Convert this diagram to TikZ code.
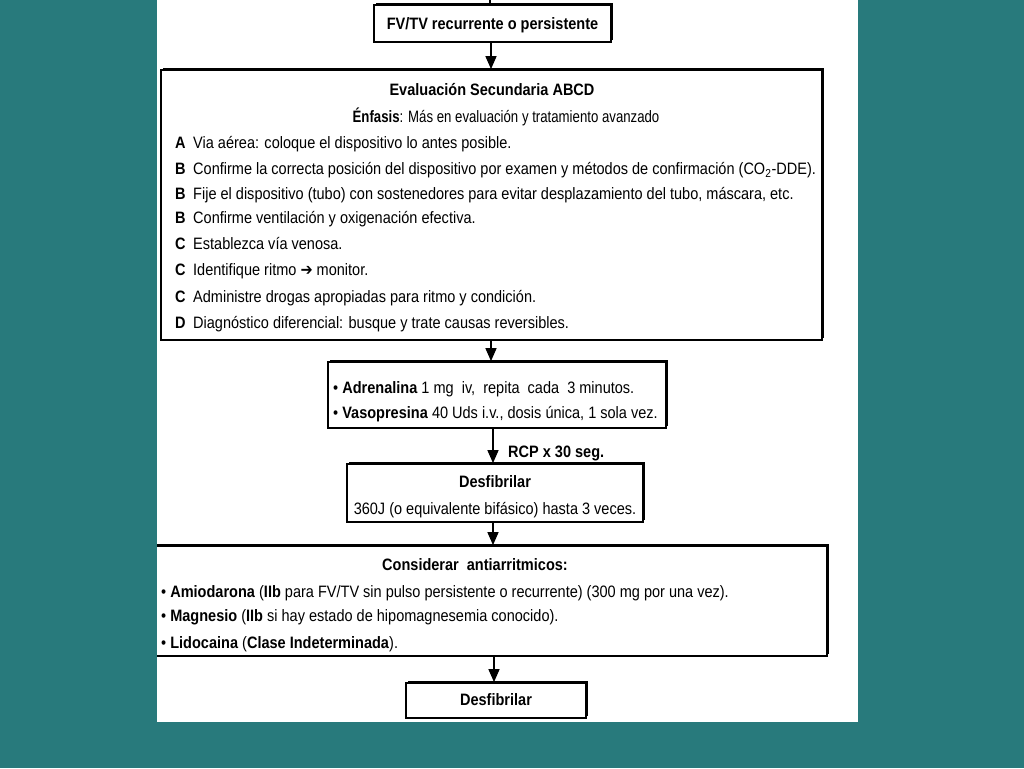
\documentclass[tikz,border=0pt]{standalone}
\usepackage{graphicx}
\usepackage{fontspec}
\setmainfont{Liberation Sans}[FakeStretch=0.88]
\newfontfamily\dejavu{DejaVu Sans}[FakeStretch=0.88]
\usetikzlibrary{arrows.meta,shadows}
\definecolor{teal1}{RGB}{40,122,124}
\begin{document}
\begin{tikzpicture}[x=1pt,y=-1pt,
  box/.style={draw=black,line width=1.8pt,fill=white,inner sep=0pt,
    drop shadow={shadow xshift=1.8pt,shadow yshift=1.8pt,fill=black,opacity=1}},
  txt/.style={inner sep=0pt,anchor=base west,font=\fontsize{16.5}{19}\selectfont},
  ctxt/.style={inner sep=0pt,anchor=base,font=\fontsize{16.5}{19}\selectfont},
  arr/.style={line width=1.5pt,-{Triangle[width=11pt,length=13pt]}}]
\useasboundingbox (0,0) rectangle (1024,768);
\fill[teal1] (0,0) rectangle (1024,768);
\fill[white] (157,0) rectangle (858,722);
\begin{scope}
\clip (157,0) rectangle (858,722);
\coordinate (top) at (490,0);
\node[box,minimum width=237pt,minimum height=37pt] (b1) at (492.5,23.5) {};
\node[box,minimum width=661pt,minimum height=270pt] (b2) at (491.5,205) {};
\node[box,minimum width=338pt,minimum height=66pt] (b3) at (497,395) {};
\node[box,minimum width=296pt,minimum height=58pt] (b4) at (495,493) {};
\node[box,minimum width=677pt,minimum height=110pt] (b5) at (488.5,601) {};
\node[box,minimum width=180pt,minimum height=35pt] (b6) at (496,700.5) {};
\draw[line width=1.5pt] (top) -- (top |- b1.north);
\draw[arr] (491,0 |- b1.south) -- (491,0 |- b2.north);
\draw[arr] (491,0 |- b2.south) -- (491,0 |- b3.north);
\draw[arr] (493,0 |- b3.south) -- (493,0 |- b4.north);
\draw[arr] (493,0 |- b4.south) -- (493,0 |- b5.north);
\draw[arr] (494,0 |- b5.south) -- (494,0 |- b6.north);
\node[txt] (rcp) at (508,457.5) {\textbf{RCP x 30 seg.}};
% box 1
\node[ctxt] (t1) at (492.5,29.5) {\textbf{FV/TV recurrente o persistente}};
% box 2
\node[ctxt] (t2a) at (492,95.5) {\textbf{Evaluación Secundaria ABCD}};
\node[ctxt] (t2b) at (506,122.5) {\scalebox{0.91}[1]{\textbf{Énfasis}: Más en evaluación y tratamiento avanzado}};
\node[txt] (t2c) at (175,148.5) {\makebox[18pt][l]{\textbf{A}}Via aérea: coloque el dispositivo lo antes posible.};
\node[txt] (t2d) at (175,174.5) {\makebox[18pt][l]{\textbf{B}}Confirme la correcta posición del dispositivo por examen y métodos de confirmación (CO\textsubscript{2}-DDE).};
\node[txt] (t2e) at (175,199.5) {\makebox[18pt][l]{\textbf{B}}Fije el dispositivo (tubo) con sostenedores para evitar desplazamiento del tubo, máscara, etc.};
\node[txt] (t2f) at (175,223.5) {\makebox[18pt][l]{\textbf{B}}Confirme ventilación y oxigenación efectiva.};
\node[txt] (t2g) at (175,249.5) {\makebox[18pt][l]{\textbf{C}}Establezca vía venosa.};
\node[txt] (t2h) at (175,275.5) {\makebox[18pt][l]{\textbf{C}}Identifique ritmo {\dejavu\bfseries ➔} monitor.};
\node[txt] (t2i) at (175,302.5) {\makebox[18pt][l]{\textbf{C}}Administre drogas apropiadas para ritmo y condición.};
\node[txt] (t2j) at (175,328.5) {\makebox[18pt][l]{\textbf{D}}Diagnóstico diferencial: busque y trate causas reversibles.};
% box 3
\node[txt] (t3a) at (333,393.5) {• \textbf{Adrenalina} 1 mg\ \ iv,\ \ repita\ \ cada\ \ 3 minutos.};
\node[txt] (t3b) at (333,418.5) {• \textbf{Vasopresina} 40 Uds i.v., dosis única, 1 sola vez.};
% box 4
\node[ctxt] (t4a) at (495,487.5) {\textbf{Desfibrilar}};
\node[ctxt] (t4b) at (495,514.5) {360J (o equivalente bifásico) hasta 3 veces.};
% box 5
\node[ctxt] (t5a) at (475,570.5) {\textbf{Considerar\ \ antiarritmicos:}};
\node[txt] (t5b) at (161,597.5) {• \textbf{Amiodarona} (\textbf{IIb} para FV/TV sin pulso persistente o recurrente) (300 mg por una vez).};
\node[txt] (t5c) at (161,621.5) {• \textbf{Magnesio} (\textbf{IIb} si hay estado de hipomagnesemia conocido).};
\node[txt] (t5d) at (161,648.5) {• \textbf{Lidocaina} (\textbf{Clase Indeterminada}).};
% box 6
\node[ctxt] (t6) at (496,705.5) {\textbf{Desfibrilar}};
\end{scope}
\end{tikzpicture}
\end{document}
